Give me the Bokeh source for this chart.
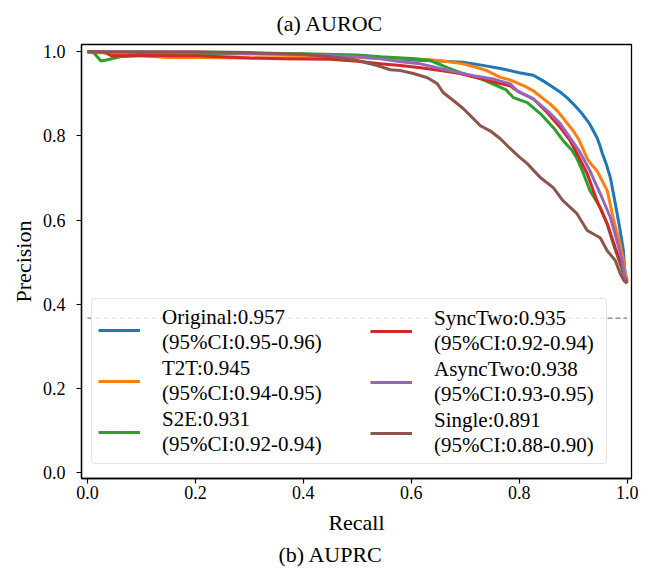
from bokeh.plotting import figure
from bokeh.models import Range1d, Legend, LegendItem, Title, FixedTicker, CustomJSTickFormatter
from bokeh.core.properties import value
from bokeh.embed import file_html
from bokeh.resources import INLINE

# ---- data ----
orig_r = [0.0, 0.05, 0.1, 0.2, 0.3, 0.4, 0.45, 0.5, 0.55, 0.6, 0.65, 0.696, 0.73, 0.765, 0.783, 0.8, 0.826, 0.845, 0.857, 0.875, 0.889, 0.9, 0.913, 0.922, 0.931, 0.944, 0.95, 0.954, 0.962, 0.969, 0.978, 0.987, 0.993, 0.996, 1.0]
orig_p = [1.0, 0.997, 0.996, 0.996, 0.996, 0.994, 0.992, 0.99, 0.985, 0.98, 0.978, 0.975, 0.968, 0.96, 0.955, 0.95, 0.944, 0.93, 0.92, 0.905, 0.89, 0.876, 0.858, 0.843, 0.827, 0.796, 0.775, 0.758, 0.73, 0.70, 0.639, 0.575, 0.527, 0.473, 0.456]

t2t_r = [0.0, 0.05, 0.1, 0.15, 0.2, 0.3, 0.4, 0.5, 0.55, 0.6, 0.635, 0.67, 0.696, 0.72, 0.74, 0.765, 0.783, 0.796, 0.81, 0.826, 0.84, 0.857, 0.87, 0.881, 0.89, 0.9, 0.91, 0.917, 0.926, 0.935, 0.944, 0.955, 0.963, 0.974, 0.98, 0.987, 0.993, 0.998, 1.0]
t2t_p = [1.0, 0.995, 0.99, 0.986, 0.986, 0.985, 0.986, 0.986, 0.984, 0.983, 0.981, 0.976, 0.971, 0.963, 0.955, 0.939, 0.933, 0.926, 0.918, 0.907, 0.893, 0.876, 0.86, 0.843, 0.828, 0.812, 0.792, 0.772, 0.746, 0.73, 0.717, 0.69, 0.67, 0.606, 0.575, 0.544, 0.504, 0.463, 0.455]

s2e_r = [0.0, 0.01, 0.025, 0.035, 0.06, 0.1, 0.15, 0.2, 0.3, 0.4, 0.5, 0.543, 0.6, 0.635, 0.667, 0.696, 0.728, 0.759, 0.775, 0.789, 0.815, 0.839, 0.863, 0.881, 0.898, 0.907, 0.917, 0.931, 0.95, 0.963, 0.974, 0.983, 0.993, 0.998, 1.0]
s2e_p = [1.0, 1.0, 0.978, 0.98, 0.988, 0.991, 0.993, 0.994, 0.995, 0.995, 0.992, 0.988, 0.984, 0.979, 0.962, 0.948, 0.936, 0.919, 0.91, 0.891, 0.879, 0.853, 0.82, 0.789, 0.765, 0.746, 0.717, 0.67, 0.63, 0.591, 0.544, 0.511, 0.473, 0.456, 0.45]

sync_r = [0.0, 0.03, 0.045, 0.07, 0.1, 0.2, 0.3, 0.36, 0.45, 0.5, 0.543, 0.58, 0.617, 0.654, 0.69, 0.728, 0.765, 0.783, 0.796, 0.826, 0.852, 0.876, 0.894, 0.907, 0.926, 0.944, 0.963, 0.978, 0.991, 0.996, 1.0]
sync_p = [1.0, 1.0, 0.99, 0.99, 0.991, 0.99, 0.985, 0.983, 0.982, 0.977, 0.971, 0.967, 0.962, 0.955, 0.948, 0.936, 0.924, 0.919, 0.907, 0.888, 0.855, 0.82, 0.789, 0.758, 0.71, 0.646, 0.591, 0.534, 0.487, 0.461, 0.45]

async_r = [0.0, 0.1, 0.2, 0.26, 0.3, 0.4, 0.5, 0.543, 0.58, 0.617, 0.654, 0.678, 0.715, 0.752, 0.765, 0.783, 0.796, 0.826, 0.852, 0.876, 0.894, 0.913, 0.931, 0.95, 0.969, 0.981, 0.991, 0.996, 1.0]
async_p = [1.0, 0.999, 0.998, 0.997, 0.995, 0.993, 0.988, 0.983, 0.976, 0.971, 0.96, 0.953, 0.943, 0.935, 0.93, 0.924, 0.907, 0.888, 0.86, 0.829, 0.796, 0.76, 0.717, 0.663, 0.606, 0.551, 0.504, 0.455, 0.45]

single_r = [0.0, 0.1, 0.2, 0.3, 0.4, 0.45, 0.5, 0.537, 0.561, 0.58, 0.604, 0.63, 0.648, 0.659, 0.678, 0.696, 0.715, 0.728, 0.746, 0.765, 0.783, 0.8, 0.815, 0.839, 0.863, 0.881, 0.907, 0.926, 0.94, 0.95, 0.963, 0.978, 0.987, 0.994, 1.0]
single_p = [1.0, 1.0, 1.0, 0.998, 0.994, 0.988, 0.979, 0.967, 0.957, 0.955, 0.948, 0.938, 0.924, 0.903, 0.884, 0.865, 0.841, 0.824, 0.812, 0.793, 0.77, 0.75, 0.734, 0.701, 0.677, 0.646, 0.615, 0.575, 0.565, 0.558, 0.527, 0.504, 0.473, 0.456, 0.45]

base_x = [0.0, 1.0]
base_y = [0.367, 0.367]

labels = [
    "Original:0.957\n(95%CI:0.95-0.96)",
    "T2T:0.945\n(95%CI:0.94-0.95)",
    "S2E:0.931\n(95%CI:0.92-0.94)",
    "SyncTwo:0.935\n(95%CI:0.92-0.94)",
    "AsyncTwo:0.938\n(95%CI:0.93-0.95)",
    "Single:0.891\n(95%CI:0.88-0.90)",
]
colors = ["#1f77b4", "#ff7f0e", "#2ca02c", "#d62728", "#9467bd", "#8c564b"]
ticks = [0.0, 0.2, 0.4, 0.6, 0.8, 1.0]
top_caption = "(a) AUROC"
bottom_caption = "(b) AUPRC"

FONT = "Liberation Serif"

p = figure(width=651, height=569, output_backend="svg", toolbar_location=None,
           x_range=Range1d(-0.011, 1.008), y_range=Range1d(-0.014, 1.017),
           min_border_left=81, min_border_right=20, min_border_top=44,
           min_border_bottom=91)
p.xgrid.visible = False
p.ygrid.visible = False
p.outline_line_color = "black"
p.outline_line_width = 1.3
p.outline_line_alpha = 1.0
p.background_fill_color = "white"
p.border_fill_color = "white"

p.title.text = top_caption
p.title.align = "left"
p.title.offset = 195
p.title.text_font = FONT
p.title.text_font_size = "22px"
p.title.text_font_style = "normal"
p.title.text_color = "black"
p.title.standoff = 14
p.title.vertical_align = "top"

for ax in (p.xaxis[0], p.yaxis[0]):
    ax.ticker = FixedTicker(ticks=ticks)
    ax.minor_tick_line_color = None
    ax.major_tick_in = 0
    ax.major_tick_out = 5
    ax.major_tick_line_color = "black"
    ax.major_tick_line_width = 1.2
    ax.axis_line_color = "black"
    ax.axis_line_width = 1.3
    ax.major_label_text_font = FONT
    ax.major_label_text_font_size = "18px"
    ax.major_label_text_color = "black"
    ax.axis_label_text_font = FONT
    ax.axis_label_text_font_size = "22px"
    ax.axis_label_text_font_style = "normal"
    ax.axis_label_text_color = "black"

fmt = CustomJSTickFormatter(code="return tick.toFixed(1);")
p.xaxis[0].formatter = fmt
p.yaxis[0].formatter = fmt
p.xaxis[0].axis_label = "Recall"
p.yaxis[0].axis_label = "Precision"
p.xaxis[0].major_label_standoff = 2
p.xaxis[0].axis_label_standoff = 8
p.yaxis[0].major_label_standoff = 11
p.yaxis[0].axis_label_standoff = 4

series = [(orig_r, orig_p), (t2t_r, t2t_p), (s2e_r, s2e_p),
          (sync_r, sync_p), (async_r, async_p), (single_r, single_p)]
rends = []
for (xs, ys), c in zip(series, colors):
    rends.append(p.line(xs, ys, line_color=c, line_width=3))

p.line(base_x, base_y, line_color="#808080", line_width=1.2, line_dash="5 3")

common = dict(
    margin=0, padding=6, spacing=1, glyph_width=42, glyph_height=40,
    label_height=40, label_standoff=22,
    label_text_font=FONT, label_text_font_size="21px",
    label_text_color="black",
    orientation="vertical",
)
leg1 = Legend(items=[LegendItem(label=value(labels[i]), renderers=[rends[i]]) for i in range(3)],
              location=(10, 14), label_width=438,
              border_line_color="#cccccc", border_line_width=1,
              background_fill_color="white", background_fill_alpha=0.8, **common)
leg2 = Legend(items=[LegendItem(label=value(labels[i]), renderers=[rends[i]]) for i in range(3, 6)],
              location=(283, 14), label_width=150,
              border_line_alpha=0, background_fill_alpha=0, **common)
if "border_radius" in Legend.properties():
    leg1.border_radius = 4
p.add_layout(leg1)
p.add_layout(leg2)

p.add_layout(Title(text=bottom_caption, align="left", offset=197, text_font=FONT,
                   text_font_size="22px", text_font_style="normal",
                   text_color="black", standoff=4), "below")

open("out.html", "w").write(file_html(p, INLINE))
